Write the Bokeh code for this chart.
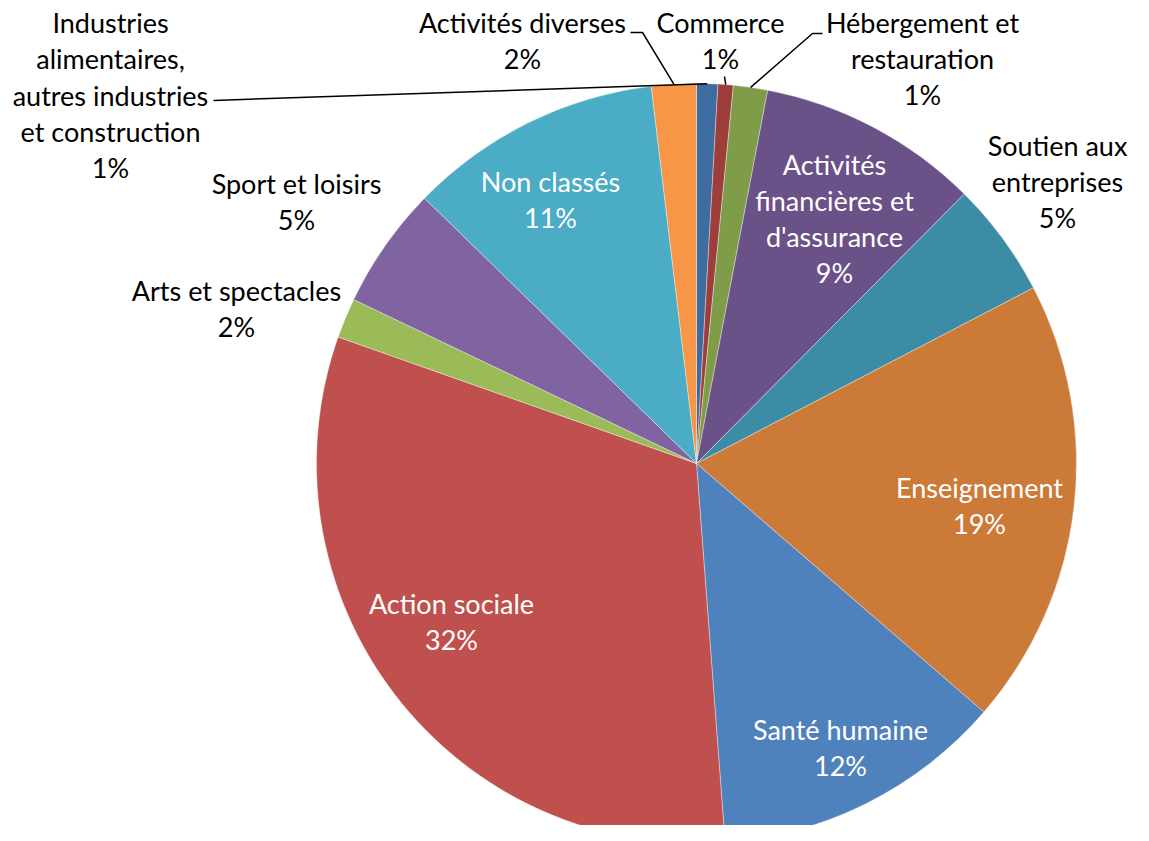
import math
from bokeh.plotting import figure
from bokeh.models import Range1d, ColumnDataSource
from bokeh.core.properties import value
from bokeh.embed import file_html
from bokeh.resources import INLINE

# ---------------- data ----------------
categories = [
    "Industries alimentaires, autres industries et construction",
    "Commerce",
    "Hébergement et restauration",
    "Activités financières et d'assurance",
    "Soutien aux entreprises",
    "Enseignement",
    "Santé humaine",
    "Action sociale",
    "Arts et spectacles",
    "Sport et loisirs",
    "Non classés",
    "Activités diverses",
]
label_text = [
    ["Industries", "alimentaires,", "autres industries", "et construction"],
    ["Commerce"],
    ["Hébergement et", "restauration"],
    ["Activités", "financières et", "d'assurance"],
    ["Soutien aux", "entreprises"],
    ["Enseignement"],
    ["Santé humaine"],
    ["Action sociale"],
    ["Arts et spectacles"],
    ["Sport et loisirs"],
    ["Non classés"],
    ["Activités diverses"],
]
shares = [0.9, 0.65, 1.45, 9.45, 4.9, 19.0, 12.45, 31.6, 1.7, 5.2, 10.8, 1.9]
colors = ["#3E6CA1", "#9D3E3B", "#7F9D49", "#6A5188", "#3B8CA4", "#CC7A38",
          "#4F81BD", "#C0504D", "#9BBB59", "#8064A2", "#4BACC6", "#F79646"]

# ---------------- layout (reference pixel coordinates) ----------------
W, H = 1133, 825
REF_H = 841
CX, CY, R = 696, 463, 380
FONT = "Lato"
FSIZE = "27px"
LINE_H = 36.3
label_pos = [(110, 94.5), (720, 40), (922, 58), (834, 218), (1057, 181),
             (979, 505), (840, 747), (451, 621), (236, 308), (296, 201),
             (550, 199), (522, 40)]
inside = [False, False, False, True, False, True, True, True, False, False, True, False]
leader_anchor = {0: [(213, 100)], 1: [(724, 76)], 2: [(822, 33), (812, 33)],
                 11: [(630, 32), (642, 32)]}

def Y(y):
    return REF_H - y

p = figure(width=W, height=H, output_backend="svg", toolbar_location=None,
           x_range=Range1d(0, W), y_range=Range1d(REF_H - H, REF_H), min_border=0)
p.axis.visible = False
p.grid.visible = False
p.outline_line_color = None
p.background_fill_color = "white"
p.border_fill_color = "white"

total = sum(shares)
starts, ends, mids = [], [], []
cum = 0.0
for s in shares:
    a0 = cum / total * 2 * math.pi
    cum += s
    a1 = cum / total * 2 * math.pi
    starts.append(math.pi / 2 - a0)
    ends.append(math.pi / 2 - a1)
    mids.append((a0 + a1) / 2)

src = ColumnDataSource(dict(start=starts, end=ends, color=colors, cat=categories))
p.wedge(x=CX, y=Y(CY), radius=R, start_angle="start", end_angle="end",
        direction="clock", fill_color="color", line_color="white",
        line_width=0.6, line_alpha=0.6, source=src)

# leader lines
for i, pts in leader_anchor.items():
    rx = CX + R * math.sin(mids[i])
    ry = CY - R * math.cos(mids[i])
    xs = [q[0] for q in pts] + [rx]
    ys = [Y(q[1]) for q in pts] + [Y(ry)]
    p.line(xs, ys, line_color="black", line_width=1.5)

# labels
tx, ty, tt, tc = [], [], [], []
for i, lines in enumerate(label_text):
    pct = f"{round(shares[i] / total * 100)}%"
    allines = lines + [pct]
    n = len(allines)
    x0, y0 = label_pos[i]
    for k, t in enumerate(allines):
        tx.append(x0)
        ty.append(Y(y0 + (k - (n - 1) / 2) * LINE_H))
        tt.append(t)
        tc.append("white" if inside[i] else "black")

p.text(x="x", y="y", text="t", text_color="c",
       source=ColumnDataSource(dict(x=tx, y=ty, t=tt, c=tc)),
       text_font=value(FONT), text_font_size=FSIZE,
       text_align="center", text_baseline="middle")

open("out.html", "w").write(file_html(p, INLINE))
